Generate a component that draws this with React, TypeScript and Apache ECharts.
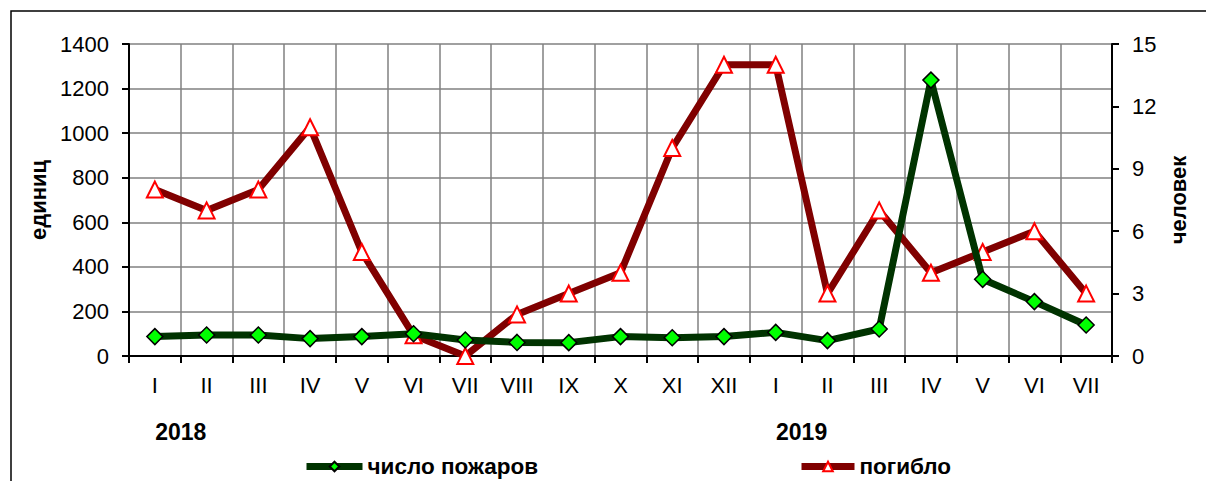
import React, { useEffect, useRef } from "react";
import * as echarts from "echarts";

const months = ["I", "II", "III", "IV", "V", "VI", "VII", "VIII", "IX", "X", "XI", "XII", "I", "II", "III", "IV", "V", "VI", "VII"];
const fires = [87, 94, 94, 78, 87, 100, 72, 61, 60, 87, 82, 87, 106, 69, 121, 1238, 344, 244, 139];
const deaths = [8, 7, 8, 11, 5, 1, 0, 2, 3, 4, 10, 14, 14, 3, 7, 4, 5, 6, 3];
const years = [
  { label: "2018", at: 0 },
  { label: "2019", at: 12 },
];
const leftTicks = { min: 0, max: 1400, interval: 200 };
const rightTicks = { min: 0, max: 15, interval: 3 };

const FONT = "'Liberation Sans', Arial, sans-serif";

export default function App() {
  const ref = useRef<HTMLDivElement>(null);
  useEffect(() => {
    if (!ref.current) return;
    const chart = echarts.init(ref.current, null, { renderer: "svg" });
    const gridLeft = 129;
    const gridRight = 94;
    const plotW = 1206 - gridLeft - gridRight;
    const step = plotW / months.length;
    const legendText = { fontFamily: FONT, fontWeight: "bold", fontSize: 22.5, color: "#000" };
    chart.setOption({
      animation: false,
      backgroundColor: "#ffffff",
      textStyle: { fontFamily: FONT },
      grid: { left: gridLeft, right: gridRight, top: 44, bottom: 125 },
      graphic: [
        {
          type: "rect",
          shape: { x: 11, y: 11, width: 1220, height: 500 },
          style: { fill: "none", stroke: "#000", lineWidth: 1.5 },
          silent: true,
        },
        ...years.map((y) => ({
          type: "text",
          x: gridLeft + step * (y.at + 1),
          y: 432,
          style: {
            text: y.label,
            font: `bold 23px ${FONT}`,
            fill: "#000",
            textAlign: "center",
            textVerticalAlign: "middle",
          },
        })),
      ],
      legend: [
        {
          data: ["число пожаров"],
          left: 303,
          top: 455,
          padding: 0,
          itemWidth: 56,
          itemHeight: 12,
          lineStyle: { width: 7 },
          textStyle: legendText,
        },
        {
          data: ["погибло"],
          left: 798,
          top: 455,
          padding: 0,
          itemWidth: 53,
          itemHeight: 12,
          lineStyle: { width: 7 },
          textStyle: legendText,
        },
      ],
      xAxis: {
        type: "category",
        data: months,
        boundaryGap: true,
        axisLine: { lineStyle: { color: "#000", width: 2 } },
        axisTick: { show: true, length: 7, lineStyle: { color: "#000", width: 2 } },
        axisLabel: { color: "#000", fontSize: 22, fontFamily: FONT, margin: 18 },
        splitLine: { show: true, lineStyle: { color: "#808080", width: 1.5 } },
      },
      yAxis: [
        {
          type: "value",
          min: leftTicks.min,
          max: leftTicks.max,
          interval: leftTicks.interval,
          name: "единиц",
          nameLocation: "middle",
          nameRotate: 90,
          nameGap: 71,
          nameTextStyle: { fontFamily: FONT, fontWeight: "bold", fontSize: 22, color: "#000" },
          axisLine: { show: true, lineStyle: { color: "#000", width: 2 } },
          axisTick: { show: true, length: 7, lineStyle: { color: "#000", width: 2 } },
          axisLabel: {
            color: "#000",
            fontSize: 22,
            fontFamily: FONT,
            margin: 20,
            formatter: (v: number) => String(v),
          },
          splitLine: { show: true, lineStyle: { color: "#808080", width: 1.5 } },
        },
        {
          type: "value",
          position: "right",
          min: rightTicks.min,
          max: rightTicks.max,
          interval: rightTicks.interval,
          name: "человек",
          nameLocation: "middle",
          nameRotate: 90,
          nameGap: 50,
          nameTextStyle: { fontFamily: FONT, fontWeight: "bold", fontSize: 22, color: "#000" },
          axisLine: { show: true, lineStyle: { color: "#000", width: 2 } },
          axisTick: { show: true, length: 7, lineStyle: { color: "#000", width: 2 } },
          axisLabel: { color: "#000", fontSize: 22, fontFamily: FONT, margin: 20 },
          splitLine: { show: false },
        },
      ],
      series: [
        {
          name: "погибло",
          type: "line",
          yAxisIndex: 1,
          data: deaths,
          lineStyle: { color: "#800000", width: 7 },
          itemStyle: { color: "#ffffff", borderColor: "#ff0000", borderWidth: 2 },
          symbol: "triangle",
          symbolSize: 16,
          z: 2,
        },
        {
          name: "число пожаров",
          type: "line",
          yAxisIndex: 0,
          data: fires,
          lineStyle: { color: "#003300", width: 7 },
          itemStyle: { color: "#00ff00", borderColor: "#000000", borderWidth: 1.5 },
          symbol: "diamond",
          symbolSize: 16,
          z: 3,
        },
      ],
    });
    return () => chart.dispose();
  }, []);
  return (
    <div
      ref={ref}
      style={{ position: "absolute", left: 0, top: 0, width: 1206, height: 481 }}
    />
  );
}
